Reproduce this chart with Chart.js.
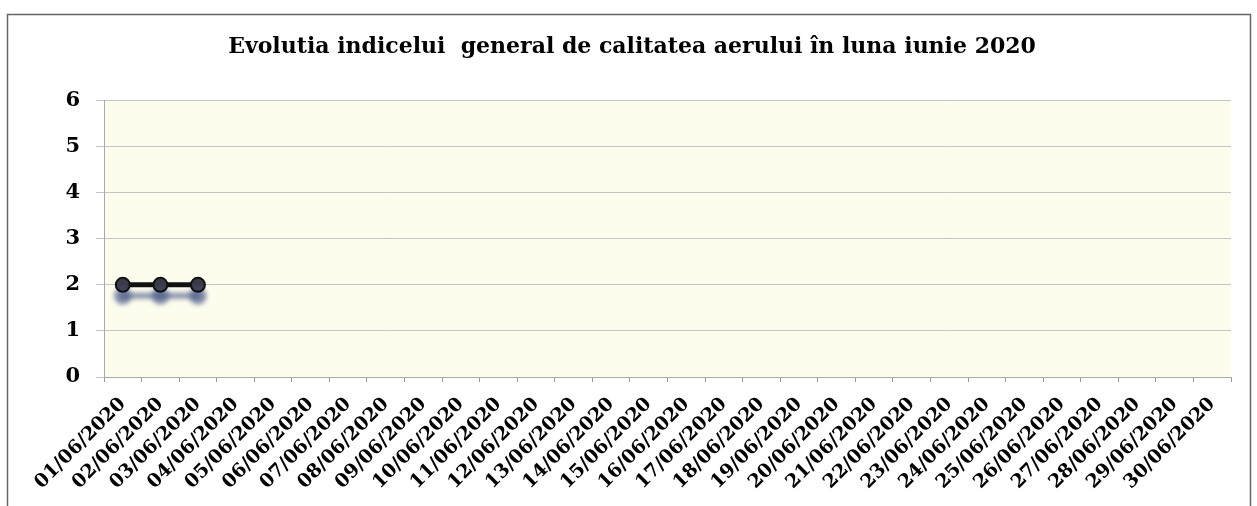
<!DOCTYPE html>
<html>
<head>
<meta charset="utf-8">
<script src="https://cdn.jsdelivr.net/npm/chart.js@4/dist/chart.umd.min.js"></script>
<style>
  html, body { margin: 0; padding: 0; background: #ffffff; }
  #wrap { position: relative; width: 1257px; height: 506px; }
</style>
</head>
<body>
<div id="wrap"><canvas id="c" width="1257" height="506"></canvas></div>
<script>
const chartTitle = 'Evolutia indicelui  general de calitatea aerului în luna iunie 2020';
const categories = [
  '01/06/2020','02/06/2020','03/06/2020','04/06/2020','05/06/2020','06/06/2020',
  '07/06/2020','08/06/2020','09/06/2020','10/06/2020','11/06/2020','12/06/2020',
  '13/06/2020','14/06/2020','15/06/2020','16/06/2020','17/06/2020','18/06/2020',
  '19/06/2020','20/06/2020','21/06/2020','22/06/2020','23/06/2020','24/06/2020',
  '25/06/2020','26/06/2020','27/06/2020','28/06/2020','29/06/2020','30/06/2020'
];
const indexValues = [2, 2, 2, null, null, null, null, null, null, null, null, null,
  null, null, null, null, null, null, null, null, null, null, null, null,
  null, null, null, null, null, null];
const yTicks = [0, 1, 2, 3, 4, 5, 6];

const frameAndBg = {
  id: 'frameAndBg',
  beforeDraw(chart) {
    const ctx = chart.ctx, a = chart.chartArea;
    ctx.save();
    ctx.fillStyle = '#ffffff';
    ctx.fillRect(0, 0, chart.width, chart.height);
    ctx.strokeStyle = '#666666';
    ctx.lineWidth = 1.5;
    ctx.strokeRect(7.5, 14.5, 1243, 520);
    ctx.fillStyle = '#fdfdee';
    ctx.fillRect(a.left, a.top, a.right - a.left, a.bottom - a.top);
    ctx.restore();
  }
};

const shadowPlugin = {
  id: 'shadowPlugin',
  beforeDatasetsDraw(chart) {
    const ctx = chart.ctx;
    ctx.save();
    ctx.shadowColor = 'rgba(80, 95, 140, 0.8)';
    ctx.shadowBlur = 5;
    ctx.shadowOffsetX = 0;
    ctx.shadowOffsetY = 11;
  },
  afterDatasetsDraw(chart) {
    chart.ctx.restore();
  }
};

new Chart(document.getElementById('c'), {
  type: 'line',
  data: {
    labels: categories,
    datasets: [{
      label: 'Indice general',
      data: indexValues,
      borderColor: '#111111',
      borderWidth: 5,
      pointRadius: 7,
      pointBackgroundColor: '#3a3a48',
      pointBorderColor: '#111111',
      pointBorderWidth: 2,
      spanGaps: false,
      tension: 0
    }]
  },
  options: {
    responsive: false,
    animation: false,
    layout: { padding: { left: 33, right: 26, top: 0, bottom: 0 } },
    plugins: {
      legend: { display: false },
      tooltip: { enabled: false },
      title: {
        display: true,
        text: chartTitle,
        color: '#000000',
        font: { family: 'DejaVu Serif', size: 22, weight: 'bold', lineHeight: 1.2 },
        padding: { top: 34, bottom: 40 }
      }
    },
    scales: {
      x: {
        type: 'category',
        offset: true,
        grid: { display: true, drawOnChartArea: false, drawTicks: true, tickLength: 5, color: '#999999', offset: true },
        border: { display: true, color: '#aaaaaa', width: 1 },
        ticks: {
          autoSkip: false,
          minRotation: 45,
          maxRotation: 45,
          padding: 11,
          color: '#000000',
          font: { family: 'DejaVu Serif', size: 19, weight: 'bold' }
        },
        afterFit(scale) { scale.height = 129; }
      },
      y: {
        min: 0,
        max: 6,
        afterBuildTicks(scale) { scale.ticks = yTicks.map(v => ({ value: v })); },
        grid: { color: '#c4c4c4', lineWidth: 1, tickLength: 8, drawTicks: true },
        border: { display: true, color: '#aaaaaa', width: 1 },
        ticks: {
          padding: 16,
          color: '#000000',
          font: { family: 'DejaVu Serif', size: 21, weight: 'bold' }
        },
        afterFit(scale) { scale.width = 71; }
      }
    }
  },
  plugins: [frameAndBg, shadowPlugin]
});
</script>
</body>
</html>
